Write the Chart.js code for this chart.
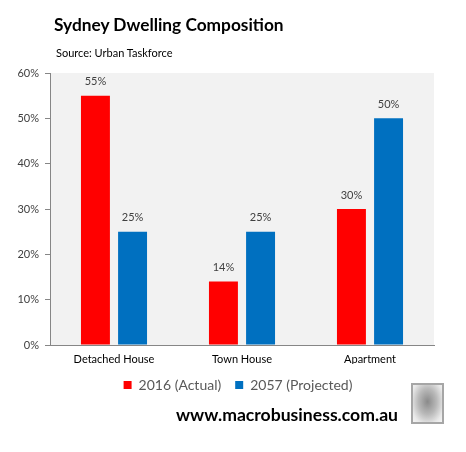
<!DOCTYPE html>
<html>
<head>
<meta charset="utf-8">
<script src="https://cdn.jsdelivr.net/npm/chart.js@4/dist/chart.umd.min.js"></script>
<style>
  html, body { margin: 0; padding: 0; background: #ffffff; }
  #wrap { position: relative; width: 466px; height: 452px; overflow: hidden; font-family: Lato, "Open Sans", sans-serif; }
  #c { position: absolute; left: 0; top: 0; }
  .title { position: absolute; left: 54px; top: 14px; font-size: 17.3px; font-weight: bold; color: #000; white-space: nowrap; }
  .sub { position: absolute; left: 56px; top: 46px; font-size: 11px; color: #000; white-space: nowrap; }
  .wm { position: absolute; left: 176px; top: 404px; font-size: 17.6px; font-weight: bold; color: #000; white-space: nowrap; }
  .wolf { position: absolute; left: 411px; top: 383px; width: 29px; height: 37px; border: 2px solid #a6a6a6;
          background: radial-gradient(ellipse at 50% 45%, #8a8a8a 0%, #b9b9b9 45%, #e8e8e8 80%, #f4f4f4 100%); }
</style>
</head>
<body>
<div id="wrap">
  <canvas id="c" width="466" height="452"></canvas>
  <div class="title">Sydney Dwelling Composition</div>
  <div class="sub">Source: Urban Taskforce</div>
  <div class="wm">www.macrobusiness.com.au</div>
  <div class="wolf"></div>
</div>
<script>
const categories = ["Detached House", "Town House", "Apartment"];
const seriesNames = ["2016 (Actual)", "2057 (Projected)"];
const actual2016 = [55, 14, 30];
const projected2057 = [25, 25, 50];
const yTicks = [0, 10, 20, 30, 40, 50, 60];

const bgPlugin = {
  id: 'plotBg',
  afterLayout(chart) {
    if (chart.legend) { chart.legend.left += 21; chart.legend.right += 21; }
  },
  beforeDraw(chart) {
    const { ctx, chartArea: a } = chart;
    ctx.save();
    ctx.fillStyle = '#f2f2f2';
    ctx.fillRect(a.left, a.top, a.right - a.left, a.bottom - a.top);
    ctx.restore();
  }
};

const labelPlugin = {
  id: 'barLabels',
  afterDatasetsDraw(chart) {
    const { ctx } = chart;
    ctx.save();
    ctx.font = '11px Lato, "Open Sans", sans-serif';
    ctx.fillStyle = '#404040';
    ctx.textAlign = 'center';
    ctx.textBaseline = 'middle';
    chart.data.datasets.forEach((ds, i) => {
      chart.getDatasetMeta(i).data.forEach((bar, j) => {
        ctx.fillText(ds.data[j] + '%', bar.x, bar.y - 14);
      });
    });
    ctx.restore();
  }
};

new Chart(document.getElementById('c'), {
  type: 'bar',
  data: {
    labels: categories,
    datasets: [
      { label: seriesNames[0], data: actual2016, backgroundColor: '#ff0000' },
      { label: seriesNames[1], data: projected2057, backgroundColor: '#0070c0' }
    ]
  },
  options: {
    responsive: false,
    animation: false,
    devicePixelRatio: 1,
    categoryPercentage: 0.58,
    barPercentage: 0.78,
    layout: { padding: { top: 73, right: 32, left: 0, bottom: 50 } },
    plugins: {
      title: { display: false },
      tooltip: { enabled: false },
      legend: {
        display: true,
        position: 'bottom',
        labels: {
          boxWidth: 8, boxHeight: 8, padding: 14,
          color: '#595959',
          font: { family: 'Lato, "Open Sans", sans-serif', size: 14 }
        }
      }
    },
    scales: {
      x: {
        grid: { display: false, drawTicks: false },
        border: { display: true, color: '#868686', width: 1 },
        ticks: { color: '#000', padding: 8, font: { family: 'Lato, "Open Sans", sans-serif', size: 11 } },
        afterFit(s) { s.height = 19; }
      },
      y: {
        min: 0, max: 60,
        afterBuildTicks(s) { s.ticks = yTicks.map(v => ({ value: v })); },
        grid: { drawOnChartArea: false, drawTicks: true, tickLength: 5, color: '#868686' },
        border: { display: true, color: '#868686', width: 1 },
        ticks: { color: '#404040', padding: 6, callback: v => v + '%', font: { family: 'Lato, "Open Sans", sans-serif', size: 11 } },
        afterFit(s) { s.width = 50; }
      }
    }
  },
  plugins: [bgPlugin, labelPlugin]
});
</script>
</body>
</html>
